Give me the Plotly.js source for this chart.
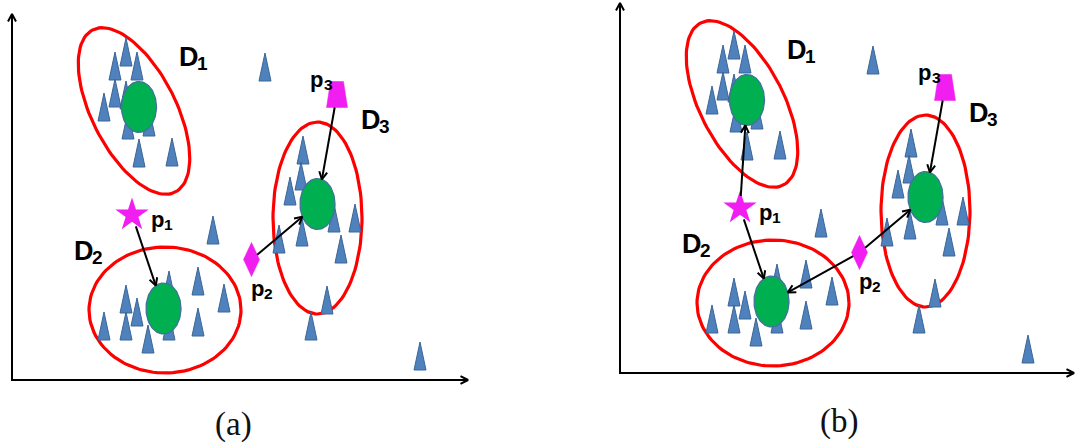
<!DOCTYPE html>
<html>
<head>
<meta charset="utf-8">
<script src="https://cdn.plot.ly/plotly-3.0.1.min.js"></script>
<style>
  html, body { margin: 0; padding: 0; background: #ffffff; }
  #chart { width: 1075px; height: 443px; }
</style>
</head>
<body>
<div id="chart"></div>
<script>
// ---- data (one unit = one grid step of the feature space) ----
// Samples: base centre of each triangle
const sampleX = [
  11.4, 10.3, 12.5, 10.3, 9.2, 11.4, 11.6, 13.7, 12.7, 16.0,
  25.3,
  11.4, 12.5, 9.2, 11.4, 13.6, 15.7, 15.7, 18.6, 21.2, 18.6, 20.1,
  29.1, 28.9, 27.8, 29.0, 32.2, 34.3, 26.7, 32.9, 31.5, 29.9,
  40.8
];
const sampleY = [
  31.4, 30.0, 30.0, 27.3, 25.9, 27.1, 24.1, 24.4, 21.3, 21.4,
  29.9,
  6.7, 5.4, 4.0, 4.0, 2.7, 8.1, 4.0, 8.5, 6.8, 4.4, 13.6,
  21.6, 19.0, 17.5, 13.4, 14.8, 14.8, 12.7, 11.7, 6.6, 4.0,
  1.0
];

// Cluster centres
const clusterNames = ['D1', 'D2', 'D3'];
const clusterLetters = ['D', 'D', 'D'];
const clusterIndices = ['1', '2', '3'];
const centreX = [12.7, 15.15, 30.55];
const centreY = [27.3, 7.15, 17.6];

// Cluster extents (ellipse centre, semi-axes, tilt in degrees)
const extentX = [12.2, 15.3, 30.55];
const extentY = [26.9, 7.0, 16.2];
const extentRx = [4.2, 7.6, 4.45];
const extentRy = [9.1, 6.3, 9.6];
const extentTilt = [27, 0, 0];

// Cluster label anchors
const clusterLabelX = [16.5, 6.0, 34.65];
const clusterLabelY = [32.3, 12.95, 26.0];

// Query points
const queryNames = ['p1', 'p2', 'p3'];
const queryLetters = ['p', 'p', 'p'];
const queryIndices = ['1', '2', '3'];
const queryX = [12.0, 23.95, 32.5];
const queryY = [16.5, 12.05, 28.55];
const queryLabelX = [13.65, 23.65, 29.6];
const queryLabelY = [16.1, 9.2, 30.1];

// Assignments drawn in each panel: [query, cluster]
const panelCaptions = ['(a)', '(b)'];
const panelLinks = [
  [['p1', 'D2'], ['p2', 'D3'], ['p3', 'D3']],
  [['p1', 'D1'], ['p1', 'D2'], ['p2', 'D2'], ['p2', 'D3'], ['p3', 'D3']]
];

// ---- styles & geometry ----
const BLUE = '#4F81BD', BLUE_EDGE = '#3B6696';
const GREEN = '#00B050', GREEN_EDGE = '#41719C';
const RED = '#FF0000';
const MAGENTA = '#F01EF0';
const TRI_HALF_W = 0.6, TRI_H = 2.8;
const CENTRE_RX = 1.75, CENTRE_RY = 2.55;
const DIAMOND_HW = 0.8, DIAMOND_HH = 1.7;
const TRAP_TOP_HW = 0.65, TRAP_BOT_HW = 1.05, TRAP_HH = 1.3;
const STAR_R = 1.2;
const HEAD_LEN = 0.85, HEAD_ANG = 28 * Math.PI / 180;
const SANS = 'Liberation Sans, Arial, sans-serif';
const D_SIZE = 27, D_SUB = 19, D_SUB_DX = 1.8, D_SUB_DY = -0.65;
const P_SIZE = 22, P_SUB = 15.5, P_SUB_DX = 1.35, P_SUB_DY = -0.5;

const panels = [
  { xa: 'x',  ya: 'y',  xRange: [-1.2, 52.5], yRange: [-6.3, 38.0], xDom: [0, 537 / 1075], yTip: 36.6, xTip: 45.6, capX: 22.15, capY: -4.4 },
  { xa: 'x2', ya: 'y2', xRange: [-8.3, 45.5], yRange: [-7.0, 37.3], xDom: [537 / 1075, 1], yTip: 37.0, xTip: 45.4, capX: 21.9, capY: -4.8 }
];

function ellipse(cx, cy, rx, ry, deg) {
  const phi = deg * Math.PI / 180, xs = [], ys = [];
  for (let i = 0; i <= 120; i++) {
    const t = i / 120 * 2 * Math.PI;
    const u = rx * Math.cos(t), v = ry * Math.sin(t);
    xs.push(cx + u * Math.cos(phi) - v * Math.sin(phi));
    ys.push(cy + u * Math.sin(phi) + v * Math.cos(phi));
  }
  return [xs, ys];
}

function chevron(ex, ey, ux, uy) {
  const pts = [];
  for (const s of [1, -1]) {
    const c = Math.cos(s * HEAD_ANG), sn = Math.sin(s * HEAD_ANG);
    const rx = ux * c - uy * sn, ry = ux * sn + uy * c;
    pts.push([ex - HEAD_LEN * rx, ey - HEAD_LEN * ry]);
  }
  return { x: [pts[0][0], ex, pts[1][0]], y: [pts[0][1], ey, pts[1][1]] };
}

// distance from a query marker's centre to its outline along (ux, uy)
function markerReach(name, ux, uy) {
  if (name === 'p1') return STAR_R;
  if (name === 'p2') return 1 / (Math.abs(ux) / DIAMOND_HW + Math.abs(uy) / DIAMOND_HH);
  return Math.min(TRAP_BOT_HW / Math.max(Math.abs(ux), 1e-9), TRAP_HH / Math.max(Math.abs(uy), 1e-9));
}

function label(p, x, y, text, size) {
  return {
    xref: p.xa, yref: p.ya, x: x, y: y, text: text, showarrow: false,
    xanchor: 'left', yanchor: 'middle',
    font: { family: SANS, size: size, color: '#000000', weight: 'bold' }
  };
}

const traces = [];
const annotations = [];

panels.forEach((p, k) => {
  const ax = { xaxis: p.xa, yaxis: p.ya, hoverinfo: 'skip', showlegend: false };

  // cluster extents
  const ex = [], ey = [];
  clusterNames.forEach((_, i) => {
    const [xs, ys] = ellipse(extentX[i], extentY[i], extentRx[i], extentRy[i], extentTilt[i]);
    ex.push(...xs, null); ey.push(...ys, null);
  });
  traces.push(Object.assign({ type: 'scatter', mode: 'lines', x: ex, y: ey,
    line: { color: RED, width: 3.2 } }, ax));

  // samples
  const tx = [], ty = [];
  sampleX.forEach((x, i) => {
    const y = sampleY[i];
    tx.push(x - TRI_HALF_W, x, x + TRI_HALF_W, x - TRI_HALF_W, null);
    ty.push(y, y + TRI_H, y, y, null);
  });
  traces.push(Object.assign({ type: 'scatter', mode: 'lines', x: tx, y: ty, fill: 'toself',
    fillcolor: BLUE, line: { color: BLUE_EDGE, width: 1 } }, ax));

  // cluster centres
  const cx = [], cy = [];
  centreX.forEach((x, i) => {
    const [xs, ys] = ellipse(x, centreY[i], CENTRE_RX, CENTRE_RY, 0);
    cx.push(...xs, null); cy.push(...ys, null);
  });
  traces.push(Object.assign({ type: 'scatter', mode: 'lines', x: cx, y: cy, fill: 'toself',
    fillcolor: GREEN, line: { color: GREEN_EDGE, width: 1.3 } }, ax));

  // query points: star, diamond, trapezoid
  traces.push(Object.assign({ type: 'scatter', mode: 'markers', x: [queryX[0]], y: [queryY[0]],
    marker: { symbol: 'star', size: 25, color: MAGENTA, line: { width: 0 } } }, ax));
  const qx = [queryX[1], queryX[1] + DIAMOND_HW, queryX[1], queryX[1] - DIAMOND_HW, queryX[1], null,
              queryX[2] - TRAP_TOP_HW, queryX[2] + TRAP_TOP_HW, queryX[2] + TRAP_BOT_HW, queryX[2] - TRAP_BOT_HW, queryX[2] - TRAP_TOP_HW];
  const qy = [queryY[1] + DIAMOND_HH, queryY[1], queryY[1] - DIAMOND_HH, queryY[1], queryY[1] + DIAMOND_HH, null,
              queryY[2] + TRAP_HH, queryY[2] + TRAP_HH, queryY[2] - TRAP_HH, queryY[2] - TRAP_HH, queryY[2] + TRAP_HH];
  traces.push(Object.assign({ type: 'scatter', mode: 'lines', x: qx, y: qy, fill: 'toself',
    fillcolor: MAGENTA, line: { color: MAGENTA, width: 0.5 } }, ax));

  // assignment arrows
  const lx = [], ly = [];
  panelLinks[k].forEach(([q, c]) => {
    const qi = queryNames.indexOf(q), ci = clusterNames.indexOf(c);
    const dx = queryX[qi] - centreX[ci], dy = queryY[qi] - centreY[ci];
    const len = Math.hypot(dx, dy), ux = dx / len, uy = dy / len;
    const t = 1 / Math.sqrt((ux / CENTRE_RX) ** 2 + (uy / CENTRE_RY) ** 2);
    const endX = centreX[ci] + t * ux, endY = centreY[ci] + t * uy;
    const r = markerReach(q, ux, uy);
    const stX = queryX[qi] - r * ux, stY = queryY[qi] - r * uy;
    lx.push(stX, endX, null); ly.push(stY, endY, null);
    const h = chevron(endX, endY, -ux, -uy);
    lx.push(...h.x, null); ly.push(...h.y, null);
  });
  traces.push(Object.assign({ type: 'scatter', mode: 'lines', x: lx, y: ly,
    line: { color: '#000000', width: 2 } }, ax));

  // feature-space axes
  const hy = chevron(0, p.yTip, 0, 1), hx = chevron(p.xTip, 0, 1, 0);
  traces.push(Object.assign({ type: 'scatter', mode: 'lines',
    x: [0, 0, p.xTip, null, ...hy.x, null, ...hx.x],
    y: [p.yTip, 0, 0, null, ...hy.y, null, ...hx.y],
    line: { color: '#000000', width: 2 } }, ax));

  // labels: letter plus a lowered, smaller index
  clusterLetters.forEach((txt, i) => {
    annotations.push(label(p, clusterLabelX[i], clusterLabelY[i], txt, D_SIZE));
    annotations.push(label(p, clusterLabelX[i] + D_SUB_DX, clusterLabelY[i] + D_SUB_DY, clusterIndices[i], D_SUB));
  });
  queryLetters.forEach((txt, i) => {
    annotations.push(label(p, queryLabelX[i], queryLabelY[i], txt, P_SIZE));
    annotations.push(label(p, queryLabelX[i] + P_SUB_DX, queryLabelY[i] + P_SUB_DY, queryIndices[i], P_SUB));
  });
  annotations.push({
    xref: p.xa, yref: p.ya, x: p.capX, y: p.capY, text: panelCaptions[k],
    showarrow: false, xanchor: 'center', yanchor: 'middle',
    font: { family: 'Liberation Serif, Times New Roman, serif', size: 33, color: '#111111' }
  });
});

const hidden = { visible: false, showgrid: false, zeroline: false, fixedrange: true };
const layout = {
  width: 1075, height: 443,
  margin: { l: 0, r: 0, t: 0, b: 0, pad: 0 },
  paper_bgcolor: '#ffffff', plot_bgcolor: '#ffffff',
  showlegend: false,
  xaxis:  Object.assign({ domain: panels[0].xDom, range: panels[0].xRange }, hidden),
  yaxis:  Object.assign({ domain: [0, 1], range: panels[0].yRange }, hidden),
  xaxis2: Object.assign({ domain: panels[1].xDom, range: panels[1].xRange, anchor: 'y2' }, hidden),
  yaxis2: Object.assign({ domain: [0, 1], range: panels[1].yRange, anchor: 'x2' }, hidden),
  annotations: annotations
};

Plotly.newPlot('chart', traces, layout, { staticPlot: true, displayModeBar: false });
</script>
</body>
</html>
